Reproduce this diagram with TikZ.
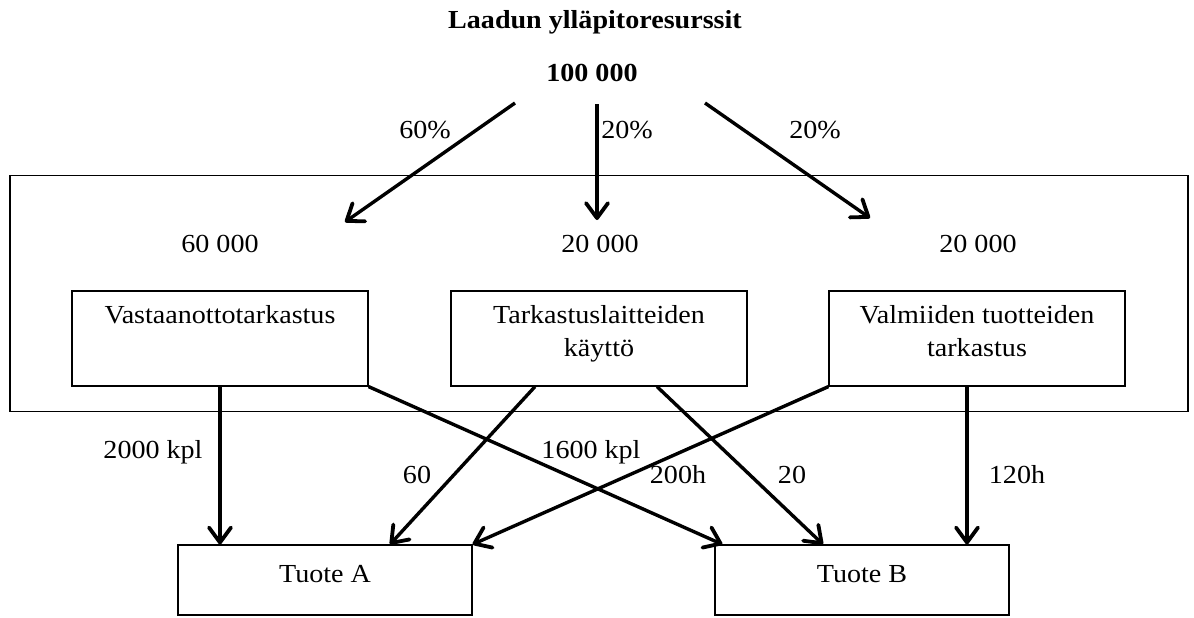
\documentclass[tikz,border=0pt]{standalone}
\usepackage{fontspec}
\setmainfont{Liberation Serif}[FakeStretch=1.08]
\usetikzlibrary{arrows.meta,calc}
\begin{document}
\begin{tikzpicture}[x=0.5pt,y=-0.5pt,
  txt/.style={font=\fontsize{13}{16.5}\selectfont, inner sep=0pt},
  bold/.style={font=\fontsize{13}{16.5}\selectfont\bfseries, inner sep=0pt},
  frame/.style={draw, line width=0.6pt},
  unitbox/.style={frame, minimum width=148pt, minimum height=47.5pt, inner sep=0pt},
  prodbox/.style={frame, minimum width=147pt, minimum height=35pt, inner sep=0pt},
  boxtext/.style={txt, anchor=north, align=center, yshift=-7.5pt},
  flow/.style={line width=1.7pt, line join=round,
    -{Straight Barb[length=7.5pt,width=11pt,line width=1.9pt,line join=round,line cap=round]}},
]
\useasboundingbox (0,0) rectangle (1194,617);

% heading and total
\node[bold] (title) at (595,22) {Laadun ylläpitoresurssit};
\node[bold] (total) at (592,73) {100 000};

% the department frame
\node[frame, minimum width=589pt, minimum height=118pt, inner sep=0pt] (dept) at (599,293.5) {};

% shares per activity
\node[txt] (s1) at (220,244) {60 000};
\node[txt] (s2) at (600,244) {20 000};
\node[txt] (s3) at (978,244) {20 000};

% activity boxes
\node[unitbox, label={[boxtext]north:Vastaanottotarkastus}] (b1) at (220,338.5) {};
\node[unitbox, label={[boxtext]north:Tarkastuslaitteiden\\käyttö}] (b2) at (599,338.5) {};
\node[unitbox, label={[boxtext]north:Valmiiden tuotteiden\\tarkastus}] (b3) at (977,338.5) {};

% products
\node[prodbox, label={[boxtext, yshift=-3pt]north:Tuote A}] (ta) at (325,580) {};
\node[prodbox, label={[boxtext, yshift=-3pt]north:Tuote B}] (tb) at (862,580) {};

% allocation from the total
\coordinate (o1) at (515,103);
\coordinate (o2) at (597,104);
\coordinate (o3) at (705,103);
\coordinate (e1) at (345,222);
\coordinate (e2) at (597,220);
\coordinate (e3) at (870,218);
\draw[flow] (o1) -- (e1);
\draw[flow] (o2) -- (e2);
\draw[flow] (o3) -- (e3);
\node[txt] (p1) at (425,130) {60\%};
\node[txt] (p2) at (627,130) {20\%};
\node[txt] (p3) at (815,130) {20\%};

% drivers to products
\draw[flow] (b1.south) -- (b1.south |- ta.north);
\draw[flow] (b1.south east) -- ($(tb.north west)+(8,0)$);
\draw[flow] ($(b2.south)+(-64,0)$) -- ($(ta.north)+(65,0)$);
\draw[flow] ($(b2.south)+(58,0)$) -- ($(tb.north)+(-39,0)$);
\draw[flow] (b3.south west) -- (ta.north east);
\draw[flow] ($(b3.south)+(-10,0)$) -- ($(tb.north)+(105,0)$);

% driver quantities
\node[txt] (q1) at (153,452) {2000 kpl};
\node[txt] (q2) at (417,475) {60};
\node[txt] (q3) at (591,452) {1600 kpl};
\node[txt] (q4) at (678,475) {200h};
\node[txt] (q5) at (792,475) {20};
\node[txt] (q6) at (1017,475) {120h};
\end{tikzpicture}
\end{document}
